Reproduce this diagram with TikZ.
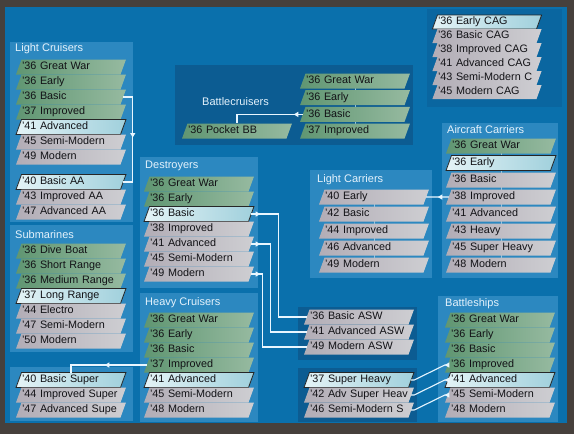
\documentclass[tikz,border=0pt]{standalone}
\usepackage{fontspec}
\setmainfont{Liberation Sans}
\usetikzlibrary{arrows.meta,positioning,shapes.geometric,backgrounds,decorations.markings}

\definecolor{frame}{RGB}{70,64,60}
\definecolor{bgblue}{RGB}{10,112,172}
\definecolor{panelL}{RGB}{44,136,192}
\definecolor{panelD}{RGB}{12,92,146}
\definecolor{panelC}{RGB}{10,102,160}
\definecolor{greenA}{RGB}{96,150,114}
\definecolor{greenB}{RGB}{150,186,160}
\definecolor{greyA}{RGB}{178,173,182}
\definecolor{greyB}{RGB}{206,206,210}
\definecolor{hiA}{RGB}{228,243,246}
\definecolor{hiB}{RGB}{160,208,220}
\definecolor{linkc}{RGB}{232,246,255}
\definecolor{titlec}{RGB}{228,242,252}
\definecolor{ink}{RGB}{18,18,22}

\begin{document}
\begin{tikzpicture}[
    x=1pt, y=-1pt,
    bar/.style={trapezium, trapezium left angle=70, trapezium right angle=110,
                inner xsep=0.5pt, inner ysep=2.25pt, outer sep=0pt,
                text width=98pt, text height=8pt, text depth=2.5pt, align=left,
                font=\fontsize{10.8}{12}\selectfont, text=ink},
    done/.style={bar, left color=greenA, right color=greenB},
    todo/.style={bar, left color=greyA, right color=greyB},
    curr/.style={bar, left color=hiA, right color=hiB, draw=black!85, line width=0.8pt},
    cag/.style={inner ysep=1.75pt},
    ttl/.style={anchor=west, inner sep=0pt, font=\fontsize{11}{12}\selectfont, text=titlec},
    panel/.style={fill=panelL},
    dpanel/.style={fill=panelD},
    link/.style={draw=linkc, line width=1.1pt},
    arrowat/.style={postaction={decorate}, decoration={markings,
        mark=at position #1 with {\arrow{Triangle[length=4.5pt,width=5pt]}}}},
    chain/.style={draw=linkc!55!panelL, line width=0.8pt},
]
\useasboundingbox (0,0) rectangle (574,434);

%% -- Light Cruisers ------------------------------------------------------
\node[ttl] (lct) at (15,49) {Light Cruisers};
\node[done]                    (lc1) at (71,67) {'36 Great War};
\node[done, below=0pt of lc1]  (lc2) {'36 Early};
\node[done, below=0pt of lc2]  (lc3) {'36 Basic};
\node[done, below=0pt of lc3]  (lc4) {'37 Improved};
\node[curr, below=0pt of lc4]  (lc5) {'41 Advanced};
\node[todo, below=0pt of lc5]  (lc6) {'45 Semi-Modern};
\node[todo, below=0pt of lc6]  (lc7) {'49 Modern};
\node[curr]                    (aa1) at (71,182) {'40 Basic AA};
\node[todo, below=0pt of aa1]  (aa2) {'43 Improved AA};
\node[todo, below=0pt of aa2]  (aa3) {'47 Advanced AA};

%% -- Submarines ----------------------------------------------------------
\node[ttl] (sbt) at (15,235) {Submarines};
\node[done]                    (sb1) at (71,251) {'36 Dive Boat};
\node[done, below=0pt of sb1]  (sb2) {'36 Short Range};
\node[done, below=0pt of sb2]  (sb3) {'36 Medium Range};
\node[curr, below=0pt of sb3]  (sb4) {'37 Long Range};
\node[todo, below=0pt of sb4]  (sb5) {'44 Electro};
\node[todo, below=0pt of sb5]  (sb6) {'47 Semi-Modern};
\node[todo, below=0pt of sb6]  (sb7) {'50 Modern};
\node[curr]                    (ss1) at (71,380) {'40 Basic Super};
\node[todo, below=0pt of ss1]  (ss2) {'44 Improved Super};
\node[todo, below=0pt of ss2]  (ss3) {'47 Advanced Supe};

%% -- Battlecruisers ------------------------------------------------------
\node[ttl] (bct) at (202,102) {Battlecruisers};
\node[done]                     (bc1) at (355,81) {'36 Great War};
\node[done, below=1.7pt of bc1] (bc2) {'36 Early};
\node[done, below=1.7pt of bc2] (bc3) {'36 Basic};
\node[done, below=1.7pt of bc3] (bc4) {'37 Improved};
\node[done]                     (pbb) at (237,131) {'36 Pocket BB};

%% -- Destroyers ----------------------------------------------------------
\node[ttl] (dst) at (145,166) {Destroyers};
\node[done]                    (ds1) at (199,184) {'36 Great War};
\node[done, below=0pt of ds1]  (ds2) {'36 Early};
\node[curr, below=0pt of ds2]  (ds3) {'36 Basic};
\node[todo, below=0pt of ds3]  (ds4) {'38 Improved};
\node[todo, below=0pt of ds4]  (ds5) {'41 Advanced};
\node[todo, below=0pt of ds5]  (ds6) {'45 Semi-Modern};
\node[todo, below=0pt of ds6]  (ds7) {'49 Modern};

% ASW row
\node[todo]                     (asw1) at (359,317) {'36 Basic ASW};
\node[todo, below=0pt of asw1]  (asw2) {'41 Advanced ASW};
\node[todo, below=0pt of asw2]  (asw3) {'49 Modern ASW};

%% -- Heavy Cruisers ------------------------------------------------------
\node[ttl] (hct) at (145,303) {Heavy Cruisers};
\node[done]                    (hc1) at (199,320) {'36 Great War};
\node[done, below=0pt of hc1]  (hc2) {'36 Early};
\node[done, below=0pt of hc2]  (hc3) {'36 Basic};
\node[done, below=0pt of hc3]  (hc4) {'37 Improved};
\node[curr, below=0pt of hc4]  (hc5) {'41 Advanced};
\node[todo, below=0pt of hc5]  (hc6) {'45 Semi-Modern};
\node[todo, below=0pt of hc6]  (hc7) {'48 Modern};

% Super heavy row
\node[curr]                    (sh1) at (359,380) {'37 Super Heavy};
\node[todo, below=0pt of sh1]  (sh2) {'42 Adv Super Heav};
\node[todo, below=0pt of sh2]  (sh3) {'46 Semi-Modern S};

%% -- Carrier air groups --------------------------------------------------
\node[curr, cag]                   (cg1) at (487,22) {'36 Early CAG};
\node[todo, cag, below=0pt of cg1] (cg2) {'36 Basic CAG};
\node[todo, cag, below=0pt of cg2] (cg3) {'38 Improved CAG};
\node[todo, cag, below=0pt of cg3] (cg4) {'41 Advanced CAG};
\node[todo, cag, below=0pt of cg4] (cg5) {'43 Semi-Modern C};
\node[todo, cag, below=0pt of cg5] (cg6) {'45 Modern CAG};

%% -- Aircraft Carriers ---------------------------------------------------
\node[ttl] (act) at (447,130) {Aircraft Carriers};
\node[done]                   (ac1) at (501,146) {'36 Great War};
\node[curr, below=2pt of ac1] (ac2) {'36 Early};
\node[todo, below=2pt of ac2] (ac3) {'36 Basic};
\node[todo, below=2pt of ac3] (ac4) {'38 Improved};
\node[todo, below=2pt of ac4] (ac5) {'41 Advanced};
\node[todo, below=2pt of ac5] (ac6) {'43 Heavy};
\node[todo, below=2pt of ac6] (ac7) {'45 Super Heavy};
\node[todo, below=2pt of ac7] (ac8) {'48 Modern};

%% -- Light Carriers ------------------------------------------------------
\node[ttl] (lrt) at (317,180) {Light Carriers};
\node[todo]                   (lr1) at (374,197) {'40 Early};
\node[todo, below=2pt of lr1] (lr2) {'42 Basic};
\node[todo, below=2pt of lr2] (lr3) {'44 Improved};
\node[todo, below=2pt of lr3] (lr4) {'46 Advanced};
\node[todo, below=2pt of lr4] (lr5) {'49 Modern};

%% -- Battleships ---------------------------------------------------------
\node[ttl] (bbt) at (445,304) {Battleships};
\node[done]                    (bb1) at (500,320) {'36 Great War};
\node[done, below=0pt of bb1]  (bb2) {'36 Early};
\node[done, below=0pt of bb2]  (bb3) {'36 Basic};
\node[done, below=0pt of bb3]  (bb4) {'36 Improved};
\node[curr, below=0pt of bb4]  (bb5) {'41 Advanced};
\node[todo, below=0pt of bb5]  (bb6) {'45 Semi-Modern};
\node[todo, below=0pt of bb6]  (bb7) {'48 Modern};

%% -- Frame, panels and chains (behind) -----------------------------------
\begin{scope}[on background layer]
  \fill[frame]  (0,0) rectangle (574,434);
  \fill[bgblue] (5,7) rectangle (567,423);
  \fill[panel]  (10,42)   rectangle (133,222);
  \fill[panel]  (10,225)  rectangle (133,352);
  \fill[panel]  (10,367)  rectangle (133,421);
  \fill[panel]  (140,157) rectangle (258,288);
  \fill[panel]  (140,293) rectangle (258,422);
  \fill[dpanel] (175,65)  rectangle (413,145);
  \fill[dpanel] (298,307) rectangle (417,360);
  \fill[dpanel] (298,368) rectangle (417,422);
  \fill[panelC] (427,9)   rectangle (562,107);
  \fill[panel]  (310,170) rectangle (432,278);
  \fill[panel]  (442,123) rectangle (558,278);
  \fill[panel]  (438,296) rectangle (558,422);
  \draw[chain] (bc1.center) -- (bc4.center);
  \draw[chain] (ac1.center) -- (ac8.center);
  \draw[chain] (lr1.center) -- (lr5.center);
\end{scope}

%% -- Connectors ----------------------------------------------------------
\draw[link, arrowat=50pt] (lc3.east) -- ++(9.5,0) |- (aa1.east);
\draw[link, arrowat=9pt]  (bc3.west) -| (pbb.north);
\draw[link, arrowat=9pt]  (ds3.east) -- ++(27.5,0) |- (asw1.west);
\draw[link, arrowat=9pt]  (ds5.east) -- ++(19.5,0) |- (asw2.west);
\draw[link, arrowat=9pt]  (ds7.east) -- ++(11.5,0) |- (asw3.west);
\draw[link, arrowat=42pt] (hc4.west) -| (ss1.north);
\draw[link, arrowat=11pt] (ac4.west) -- (lr1.east);
\draw[link, arrowat=3pt]  (bb4.west) -- ++(-3,0) -- ([xshift=3pt]sh1.east) -- (sh1.east);
\draw[link, arrowat=3pt]  (bb5.west) -- ++(-3,0) -- ([xshift=3pt]sh2.east) -- (sh2.east);
\draw[link, arrowat=3pt]  (bb6.west) -- ++(-3,0) -- ([xshift=3pt]sh3.east) -- (sh3.east);

\end{tikzpicture}
\end{document}
